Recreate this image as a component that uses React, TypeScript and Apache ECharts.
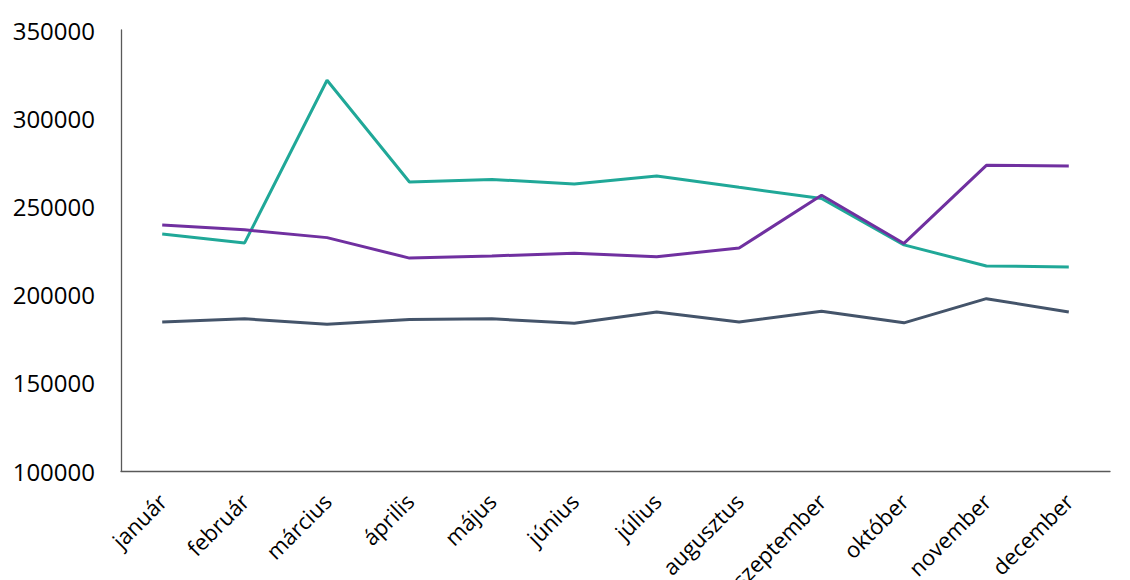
import React, { useEffect, useRef } from "react";
import * as echarts from "echarts";

const months = [
  "január", "február", "március", "április", "május", "június",
  "július", "augusztus", "szeptember", "október", "november", "december",
];

const tealSeries = [234300, 229300, 321500, 263800, 265300, 262700, 267200, 260800, 254500, 228200, 216200, 215700];
const purpleSeries = [239500, 236700, 232300, 220700, 221900, 223500, 221500, 226400, 256300, 229000, 273300, 272900];
const darkSeries = [184500, 186300, 183200, 185900, 186300, 183700, 190100, 184500, 190600, 184000, 197700, 190100];

const yMin = 100000;
const yMax = 350000;
const yStep = 50000;

export default function App() {
  const ref = useRef<HTMLDivElement>(null);
  useEffect(() => {
    if (!ref.current) return;
    const chart = echarts.init(ref.current, undefined, { renderer: "svg" });
    const font = "'Open Sans', sans-serif";
    chart.setOption({
      animation: false,
      backgroundColor: "#ffffff",
      grid: {
        left: 121,
        right: 20,
        top: 30,
        bottom: 109,
        containLabel: false,
        outerBoundsMode: "none",
      },
      xAxis: {
        type: "category",
        data: months,
        boundaryGap: true,
        axisLine: { show: true, lineStyle: { color: "#595959", width: 1.3 } },
        axisTick: { show: false },
        axisLabel: {
          rotate: 45,
          margin: 26,
          interval: 0,
          color: "#000000",
          fontSize: 22,
          fontFamily: font,
        },
        splitLine: { show: false },
      },
      yAxis: {
        type: "value",
        min: yMin,
        max: yMax,
        interval: yStep,
        axisLine: { show: true, lineStyle: { color: "#595959", width: 1.3 } },
        axisTick: { show: false },
        splitLine: { show: false },
        axisLabel: {
          margin: 26,
          color: "#000000",
          fontSize: 24,
          fontFamily: font,
          formatter: (v: number) => String(v),
        },
      },
      series: [
        {
          type: "line",
          data: tealSeries,
          symbol: "none",
          lineStyle: { color: "#20A898", width: 3 },
          itemStyle: { color: "#20A898" },
        },
        {
          type: "line",
          data: purpleSeries,
          symbol: "none",
          lineStyle: { color: "#7030A0", width: 3 },
          itemStyle: { color: "#7030A0" },
        },
        {
          type: "line",
          data: darkSeries,
          symbol: "none",
          lineStyle: { color: "#44546A", width: 3 },
          itemStyle: { color: "#44546A" },
        },
      ],
    });
    return () => chart.dispose();
  }, []);
  return (
    <div
      ref={ref}
      style={{ position: "absolute", left: 0, top: 0, width: 1130, height: 580 }}
    />
  );
}
